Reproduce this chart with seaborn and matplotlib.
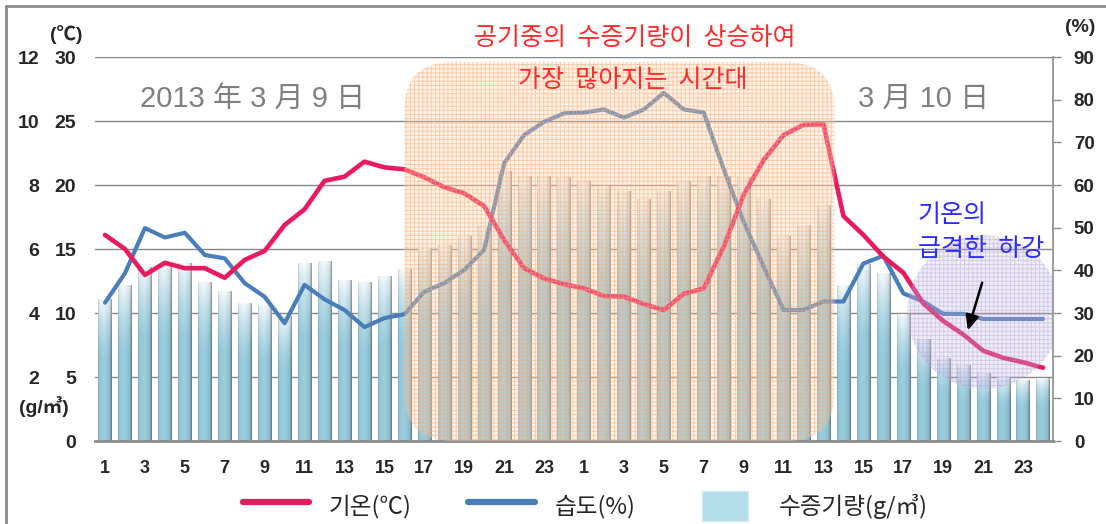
import numpy as np
import pandas as pd
import matplotlib
matplotlib.use("Agg")
import matplotlib.pyplot as plt
import seaborn as sns
from matplotlib.patches import FancyBboxPatch, Ellipse, Patch, Rectangle
from matplotlib.lines import Line2D
from matplotlib.legend_handler import HandlerPatch

# ---------------- data ----------------
hours = list(range(1, 25)) * 2
vapour = [11.1, 12.2, 13.6, 13.8, 13.9, 12.4, 11.7, 10.8, 10.6, 9.8,
          13.9, 14.1, 12.6, 12.4, 12.9, 13.4, 15.1, 15.3, 16.0, 16.9,
          21.1, 20.7, 20.7, 20.6, 20.3, 19.9, 19.5, 18.9, 19.5, 20.3,
          20.7, 20.7, 20.6, 18.9, 16.0, 16.9, 18.4, 12.2, 13.8, 13.1,
          9.9, 8.0, 6.5, 5.9, 5.3, 5.0, 4.8, 4.9]
temperature = [6.44, 6.0, 5.19, 5.57, 5.4, 5.4, 5.1, 5.66, 5.94, 6.75,
               7.24, 8.13, 8.26, 8.73, 8.55, 8.49, 8.24, 7.93, 7.74, 7.34,
               6.28, 5.4, 5.08, 4.9, 4.77, 4.53, 4.51, 4.28, 4.09, 4.6,
               4.77, 6.07, 7.69, 8.78, 9.56, 9.88, 9.9, 7.03, 6.44, 5.76,
               5.26, 4.3, 3.75, 3.33, 2.82, 2.6, 2.46, 2.29]
humidity = [32.4, 39.3, 49.9, 47.7, 48.8, 43.6, 42.8, 37.0, 33.8, 27.6,
            36.6, 33.2, 30.7, 26.7, 28.8, 29.7, 35.0, 37.0, 40.1, 44.8,
            65.1, 71.7, 74.8, 76.8, 77.0, 77.7, 75.8, 77.7, 81.6, 77.7,
            77.0, 63.7, 51.4, 40.9, 30.7, 30.7, 32.7, 32.7, 41.6, 43.4,
            34.6, 32.7, 29.8, 29.8, 28.6, 28.6, 28.6, 28.6]
vapour_ticks = [0, 5, 10, 15, 20, 25, 30]
temp_ticks = [2, 4, 6, 8, 10, 12]
hum_ticks = [0, 10, 20, 30, 40, 50, 60, 70, 80, 90]
legend_labels = ["기온(℃)", "습도(%)", "수증기량(g/㎥)"]

df = pd.DataFrame({"idx": np.arange(len(hours)), "hour": hours,
                   "vapour": vapour, "temperature": temperature,
                   "humidity": humidity})

# ---------------- style ----------------
sns.set_style("white")
NUM = ["Liberation Sans", "Noto Sans CJK KR", "DejaVu Sans"]
KR = ["Noto Sans CJK KR", "DejaVu Sans"]
plt.rcParams["font.family"] = NUM
plt.rcParams["hatch.linewidth"] = 0.7

RED = "#EA1A5E"
BLUE = "#4A7EBB"
GRID = "#878787"

W, H = 1106, 524
fig = plt.figure(figsize=(W / 100, H / 100), dpi=100)
L, R, B, T = 95, 1053, 441, 57
ax = fig.add_axes([L / W, 1 - B / H, (R - L) / W, (B - T) / H])

# ---------------- bars ----------------
sns.barplot(data=df, x="idx", y="vapour", ax=ax, color="#A6D4E3",
            saturation=1, width=0.66, edgecolor="none", zorder=2)

nx, ny = 40, 60
tx = np.linspace(0, 1, nx)
ty = np.linspace(0, 1, ny)[:, None]
base_bot = np.array([0.60, 0.80, 0.87])
base_top = np.array([0.95, 0.98, 0.99])
vert = np.clip((ty - 0.55) / 0.45, 0, 1) ** 1.5
col = base_bot[None, None, :] * (1 - vert[..., None]) + base_top[None, None, :] * vert[..., None]
hshade = 1 - 0.18 * np.abs((tx - 0.4) / 0.6) ** 2
hshade[-4:] *= 0.78
hshade[:2] *= 0.9
img = np.clip(col * hshade[None, :, None], 0, 1)
for p in list(ax.patches):
    x0 = p.get_x(); w = p.get_width(); h = p.get_height()
    im = ax.imshow(img, extent=[x0, x0 + w, 0, h], origin="lower",
                   aspect="auto", zorder=2.1, interpolation="bilinear")
    im.set_clip_path(p)

ax.set_xlim(-0.5, len(hours) - 0.5)
ax.set_ylim(0, 30)
ax.set_yticks(vapour_ticks)
ax.set_yticklabels([str(v) for v in vapour_ticks])
ax.set_xticks(np.arange(0, len(hours), 2))
ax.set_xticklabels([str(h) for h in hours[::2]])
ax.tick_params(axis="y", length=0, pad=13.5, labelsize=14)
ax.tick_params(axis="x", length=0, pad=14, labelsize=13)
for lab in ax.get_yticklabels() + ax.get_xticklabels():
    lab.set_fontweight("bold")
ax.set_xlabel(""); ax.set_ylabel("")
ax.yaxis.grid(True, color=GRID, lw=1.0, zorder=0)
ax.set_axisbelow(True)
for s in ["left", "top", "right"]:
    ax.spines[s].set_visible(False)
ax.spines["bottom"].set_color("#8C8C8C")
ax.spines["bottom"].set_linewidth(2)
ax.spines["bottom"].set_zorder(3)

# ---------------- humidity (right axis) ----------------
ax2 = ax.twinx()
sns.lineplot(data=df, x="idx", y="humidity", ax=ax2, color=BLUE, lw=3.0,
             zorder=4)
ax2.set_ylim(0, 90)
ax2.set_yticks(hum_ticks)
ax2.set_yticklabels([str(v) for v in hum_ticks])
ax2.tick_params(axis="y", length=6, width=1, color="#8C8C8C", pad=9,
                labelsize=13.5)
for lab in ax2.get_yticklabels():
    lab.set_fontweight("bold")
ax2.set_ylabel("")
for s in ["left", "top", "bottom"]:
    ax2.spines[s].set_visible(False)
ax2.spines["right"].set_color("#8C8C8C")
ax2.spines["right"].set_linewidth(1.2)

# ---------------- temperature (left inner scale) ----------------
ax3 = ax.twinx()
sns.lineplot(data=df, x="idx", y="temperature", ax=ax3, color=RED, lw=3.3,
             zorder=4)
ax3.set_ylim(0, 12)
ax3.yaxis.tick_left()
ax3.set_yticks(temp_ticks)
ax3.set_yticklabels([str(v) for v in temp_ticks])
ax3.tick_params(axis="y", length=0, pad=40, labelsize=14, left=True,
                right=False, labelleft=True, labelright=False)
for lab in ax3.get_yticklabels():
    lab.set_fontweight("bold")
ax3.set_ylabel("")
for s in ax3.spines.values():
    s.set_visible(False)
ax3.set_xlim(-0.5, len(hours) - 0.5)

# ---------------- overlays ----------------
box = FancyBboxPatch((15.0, 0.0), 21.55, 11.84,
                     boxstyle="round,pad=0,rounding_size=2.4",
                     mutation_aspect=0.625,
                     facecolor=(1.0, 0.84, 0.70, 0.30),
                     edgecolor=(0.98, 0.66, 0.42, 0.50), lw=0,
                     hatch="++++", zorder=6)
ax3.add_patch(box)
ell = Ellipse((44.05, 4.03), 7.7, 4.8,
              facecolor=(0.78, 0.73, 0.90, 0.25),
              edgecolor=(0.62, 0.55, 0.80, 0.35), lw=0, hatch="++++",
              zorder=6)
ax3.add_patch(ell)
ax3.annotate("", xy=(43.19, 3.375), xytext=(43.99, 5.03),
             arrowprops=dict(arrowstyle="-|>,head_length=0.9,head_width=0.4",
                             color="black", lw=1.8), zorder=8)

ax3.text((635 - 105) / 19.96, (441 - 38) / 32, "공기중의  수증기량이  상승하여",
         ha="center", va="center", fontsize=18, color="#FF2A2A",
         family=KR, zorder=9, clip_on=False)
ax3.text((633 - 105) / 19.96, (441 - 80) / 32, "가장  많아지는  시간대",
         ha="center", va="center", fontsize=18, color="#FF2A2A",
         family=KR, zorder=9)
ax3.text((140 - 105) / 19.96, (441 - 99) / 32, "2013 年 3 月 9 日",
         ha="left", va="center", fontsize=21, color="#7F7F7F",
         family=NUM, zorder=9)
ax3.text((858 - 105) / 19.96, (441 - 99) / 32, "3 月 10 日",
         ha="left", va="center", fontsize=21, color="#7F7F7F",
         family=NUM, zorder=9)
ax3.text((918 - 105) / 19.96, (441 - 215) / 32, "기온의",
         ha="left", va="center", fontsize=18, color="#2B2BFF",
         family=KR, zorder=9)
ax3.text((918 - 105) / 19.96, (441 - 249) / 32, "급격한  하강",
         ha="left", va="center", fontsize=18, color="#2B2BFF",
         family=KR, zorder=9)

fig.text(66 / W, 1 - 35 / H, "(℃)", ha="center", va="center",
         fontsize=14, fontweight="bold", family=NUM)
fig.text(1080 / W, 1 - 27 / H, "(%)", ha="center", va="center",
         fontsize=14, fontweight="bold", family=NUM)
fig.text(44 / W, 1 - 406 / H, "(g/㎥)", ha="center", va="center",
         fontsize=14, fontweight="bold", family=NUM)

fig.add_artist(Line2D([6 / W, 1], [1 - 6 / H, 1 - 6 / H], color="#8C8C8C", lw=2))
fig.add_artist(Line2D([6 / W, 6 / W], [0, 1 - 6 / H], color="#8C8C8C", lw=2))


def small_box(legend, orig_handle, xdescent, ydescent, width, height, fontsize):
    bw = width * 0.7
    bh = height * 1.0
    return Rectangle((-xdescent + (width - bw) / 2, -ydescent + (height - bh) / 2),
                     bw, bh)


handles = [Line2D([], [], color=RED, lw=4.5),
           Line2D([], [], color=BLUE, lw=4.5),
           Patch(facecolor="#B3DDEA", edgecolor="#D2ECF3")]
leg = ax3.legend(handles, legend_labels, loc="center",
                 bbox_to_anchor=((585 - L) / (R - L), (B - 506) / (B - T)),
                 ncol=3, frameon=False, handlelength=2.8,
                 handleheight=1.6, handletextpad=0.85, columnspacing=2.4,
                 prop={"family": KR, "size": 17},
                 handler_map={Patch: HandlerPatch(patch_func=small_box)})

fig.savefig("out.png", dpi=100)
